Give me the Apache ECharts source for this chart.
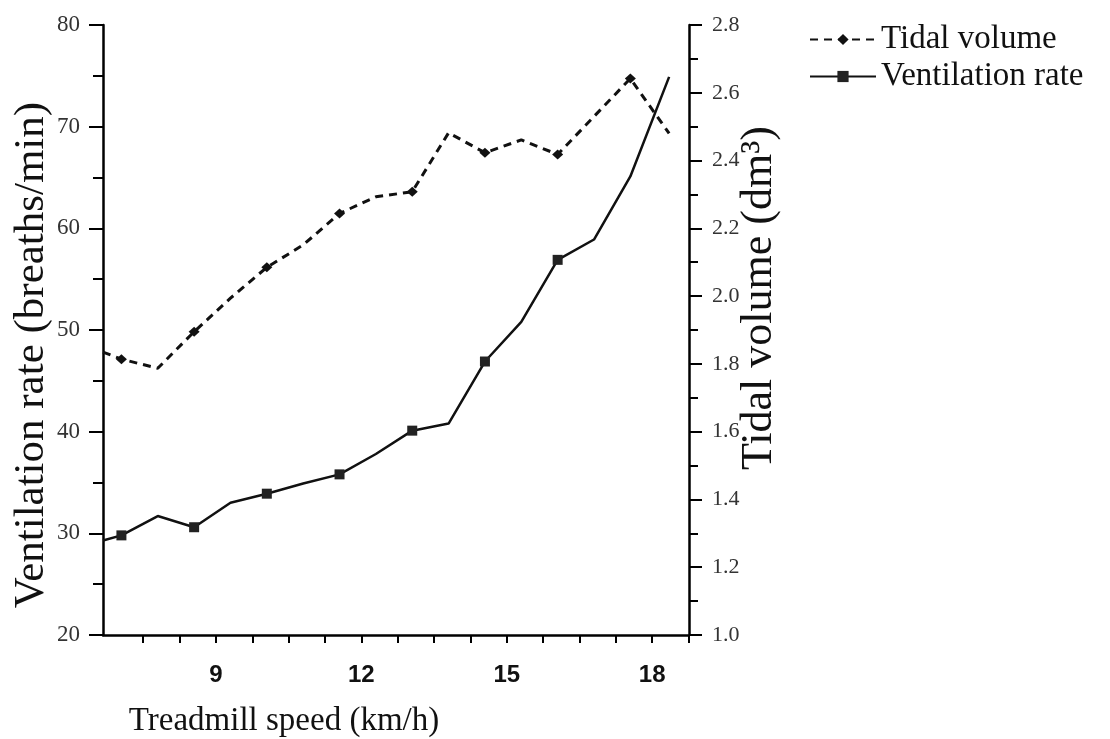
<!DOCTYPE html>
<html>
<head>
<meta charset="utf-8">
<title>Ventilation rate and tidal volume vs treadmill speed</title>
<script src="https://cdn.jsdelivr.net/npm/echarts@6/dist/echarts.min.js"></script>
<style>
  html, body { margin: 0; padding: 0; background: #fff; }
  #chart { width: 1110px; height: 739px; }
</style>
</head>
<body>
<div id="chart"></div>
<script>
// treadmill speed of each stage (km/h)
const speeds = [6.67, 7.05, 7.8, 8.55, 9.3, 10.05, 10.8, 11.55, 12.3, 13.05, 13.8, 14.55, 15.3, 16.05, 16.8, 17.55, 18.35]
// breaths/min, left axis
const ventilationRate = [29.3, 29.8, 31.7, 30.6, 33.0, 33.9, 34.9, 35.8, 37.8, 40.1, 40.8, 46.9, 50.8, 56.9, 58.9, 65.1, 74.9]
// dm3, right axis
const tidalVolume = [1.835, 1.814, 1.787, 1.895, 1.994, 2.085, 2.151, 2.244, 2.293, 2.308, 2.482, 2.423, 2.461, 2.418, 2.53, 2.642, 2.48]
// which stages carry a marker
const ventMarked = [1, 3, 5, 7, 9, 11, 13]
const tidalMarked = [1, 3, 5, 7, 9, 11, 13, 15]
// x axis ticks and labels
const speedTicks = [7.5, 8.25, 9, 9.75, 10.5, 11.25, 12, 12.75, 13.5, 14.25, 15, 15.75, 16.5, 17.25, 18, 18.75]
const speedLabels = [9, 12, 15, 18]

const serif = "'Liberation Serif', 'Times New Roman', serif"

function toData(values, marked) {
  return speeds.map((x, i) => {
    const item = { value: [x, values[i]] }
    if (marked.indexOf(i) < 0) item.symbol = 'none'
    return item
  })
}

const chart = echarts.init(document.getElementById('chart'))

chart.setOption({
  backgroundColor: '#fff',
  animation: false,
  grid: {
    left: 103,
    right: 421,
    top: 25,
    bottom: 104,
    containLabel: false,
    outerBoundsMode: 'none'
  },
  legend: {
    orient: 'vertical',
    left: 804,
    top: 18,
    itemWidth: 66,
    itemHeight: 14,
    itemGap: 4,
    textStyle: { fontFamily: serif, fontSize: 33, color: '#111' },
    data: ['Tidal volume', 'Ventilation rate']
  },
  xAxis: {
    type: 'value',
    min: 6.67,
    max: 18.76,
    name: 'Treadmill speed (km/h)',
    nameLocation: 'middle',
    nameGap: 70,
    nameMoveOverlap: false,
    nameTextStyle: { fontFamily: serif, fontSize: 33, color: '#111', padding: [0, 224, 0, 0] },
    axisLine: { onZero: false, lineStyle: { color: '#000', width: 2.5 } },
    axisTick: { customValues: speedTicks, length: 8, lineStyle: { color: '#000', width: 2 } },
    axisLabel: {
      customValues: speedLabels,
      margin: 28,
      fontFamily: "'Liberation Sans', Arial, sans-serif",
      fontWeight: 'bold',
      fontSize: 24,
      color: '#111'
    },
    splitLine: { show: false }
  },
  yAxis: [{
    type: 'value',
    position: 'left',
    min: 20,
    max: 80,
    interval: 10,
    name: 'Ventilation rate (breaths/min)',
    nameLocation: 'middle',
    nameRotate: 90,
    nameGap: 50,
    nameMoveOverlap: false,
    nameTextStyle: { fontFamily: serif, fontSize: 43, color: '#111', padding: [0, 50, 0, 0] },
    axisLine: { show: true, lineStyle: { color: '#000', width: 2.5 } },
    axisTick: { length: 14, lineStyle: { color: '#000', width: 2 } },
    minorTick: { show: true, splitNumber: 2, length: 10, lineStyle: { color: '#000', width: 2 } },
    axisLabel: { margin: 23, fontFamily: serif, fontSize: 23, color: '#333' },
    splitLine: { show: false }
  }, {
    type: 'value',
    position: 'right',
    min: 1.0,
    max: 2.8,
    interval: 0.2,
    name: 'Tidal volume (dm³)',
    nameLocation: 'middle',
    nameRotate: 90,
    nameGap: 48,
    nameMoveOverlap: false,
    nameTextStyle: { fontFamily: serif, fontSize: 44, color: '#111', padding: [0, 0, 0, 64] },
    axisLine: { show: true, lineStyle: { color: '#000', width: 2.5 } },
    axisTick: { length: 13, lineStyle: { color: '#000', width: 2 } },
    minorTick: { show: true, splitNumber: 2, length: 9, lineStyle: { color: '#000', width: 2 } },
    axisLabel: {
      margin: 23,
      fontFamily: serif,
      fontSize: 22,
      color: '#333',
      formatter: v => v.toFixed(1)
    },
    splitLine: { show: false }
  }],
  series: [{
    name: 'Tidal volume',
    type: 'line',
    yAxisIndex: 1,
    data: toData(tidalVolume, tidalMarked),
    symbol: 'diamond',
    symbolSize: [11, 10],
    lineStyle: { color: '#111', width: 3, type: [8, 6] },
    itemStyle: { color: '#111' }
  }, {
    name: 'Ventilation rate',
    type: 'line',
    yAxisIndex: 0,
    data: toData(ventilationRate, ventMarked),
    symbol: 'rect',
    symbolSize: 10,
    lineStyle: { color: '#111', width: 2.5 },
    itemStyle: { color: '#222' }
  }]
})
</script>
</body>
</html>
